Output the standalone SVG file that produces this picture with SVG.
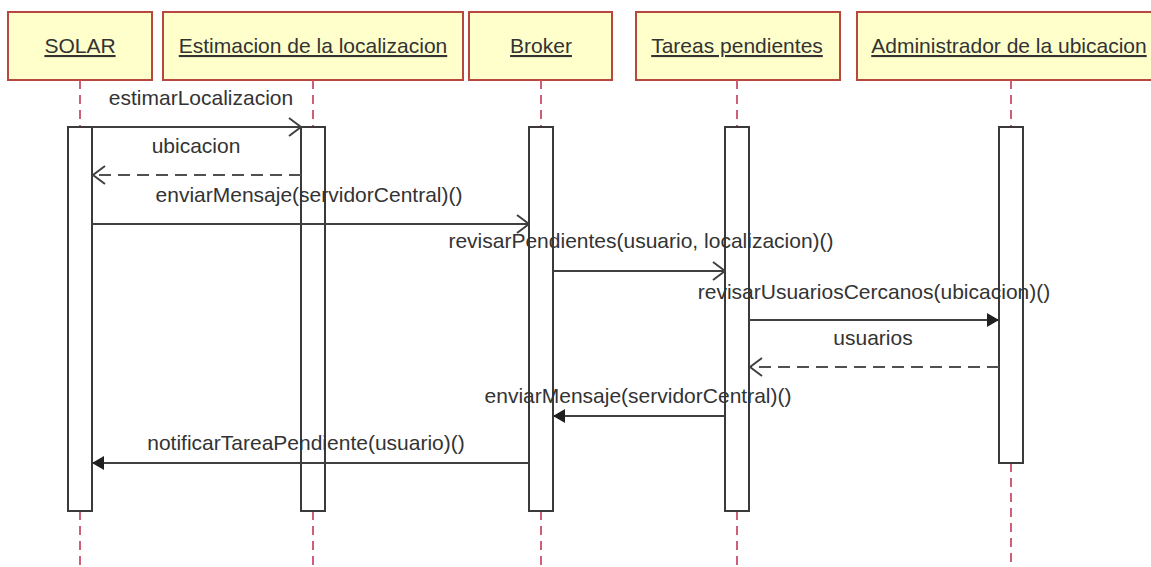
<svg xmlns="http://www.w3.org/2000/svg" width="1151" height="567" viewBox="0 0 1151 567">
  <style>
    .head { fill: #ffffcc; stroke: #b8483f; stroke-width: 2; }
    .htxt { font-family: "Liberation Sans", Arial, sans-serif; font-size: 21px; fill: #333; text-anchor: middle; text-decoration: underline; }
    .life { stroke: #c8506a; stroke-width: 1.8; stroke-dasharray: 9 6; fill: none; }
    .act { fill: #ffffff; stroke: #3a3a3a; stroke-width: 2; }
    .msg { stroke: #404040; stroke-width: 2; fill: none; }
    .ret { stroke: #505050; stroke-width: 2; fill: none; stroke-dasharray: 12 7; }
    .lbl { font-family: "Liberation Sans", Arial, sans-serif; font-size: 21px; fill: #333; text-anchor: middle; }
  </style>
  <defs>
    <marker id="open" viewBox="0 0 14 20" refX="13" refY="10" markerWidth="14" markerHeight="20" markerUnits="userSpaceOnUse" orient="auto">
      <path d="M1,1 L13,10 L1,19" fill="none" stroke="#404040" stroke-width="2"/>
    </marker>
    <marker id="filled" viewBox="0 0 12 16" refX="12" refY="8" markerWidth="12" markerHeight="16" markerUnits="userSpaceOnUse" orient="auto">
      <path d="M0,1 L12,8 L0,15 Z" fill="#202020"/>
    </marker>
  </defs>
  <rect width="1151" height="567" fill="#ffffff"/>

  <g id="solar">
    <rect class="head" x="8" y="12" width="144" height="68"/>
    <text class="htxt" x="80" y="53">SOLAR</text>
    <line class="life" x1="80" y1="80" x2="80" y2="127"/>
    <line class="life" x1="80" y1="511" x2="80" y2="567"/>
    <rect class="act" x="68" y="127" width="24" height="384"/>
  </g>

  <g id="estimacion">
    <rect class="head" x="163" y="12" width="300" height="68"/>
    <text class="htxt" x="313" y="53">Estimacion de la localizacion</text>
    <line class="life" x1="313" y1="80" x2="313" y2="127"/>
    <line class="life" x1="313" y1="511" x2="313" y2="567"/>
    <rect class="act" x="301" y="127" width="24" height="384"/>
  </g>

  <g id="broker">
    <rect class="head" x="469" y="12" width="143" height="68"/>
    <text class="htxt" x="541" y="53">Broker</text>
    <line class="life" x1="541" y1="80" x2="541" y2="127"/>
    <line class="life" x1="541" y1="511" x2="541" y2="567"/>
    <rect class="act" x="529" y="127" width="24" height="384"/>
  </g>

  <g id="tareas">
    <rect class="head" x="636" y="12" width="204" height="68"/>
    <text class="htxt" x="737" y="53">Tareas pendientes</text>
    <line class="life" x1="737" y1="80" x2="737" y2="127"/>
    <line class="life" x1="737" y1="511" x2="737" y2="567"/>
    <rect class="act" x="725" y="127" width="24" height="384"/>
  </g>

  <g id="administrador">
    <rect class="head" x="857" y="12" width="310" height="68"/>
    <text class="htxt" x="1009" y="53">Administrador de la ubicacion</text>
    <line class="life" x1="1011" y1="80" x2="1011" y2="127"/>
    <line class="life" x1="1011" y1="463" x2="1011" y2="567"/>
    <rect class="act" x="999" y="127" width="24" height="336"/>
  </g>

  <g id="connectors">
    <line class="msg" x1="92" y1="127" x2="301" y2="127" marker-end="url(#open)"/>
    <text class="lbl" x="201" y="105">estimarLocalizacion</text>

    <line class="ret" x1="301" y1="175" x2="93" y2="175" marker-end="url(#open)"/>
    <text class="lbl" x="196" y="153">ubicacion</text>

    <line class="msg" x1="92" y1="224" x2="529" y2="224" marker-end="url(#open)"/>
    <text class="lbl" x="309" y="202">enviarMensaje(servidorCentral)()</text>

    <line class="msg" x1="553" y1="271" x2="725" y2="271" marker-end="url(#open)"/>
    <text class="lbl" x="641" y="248">revisarPendientes(usuario, localizacion)()</text>

    <line class="msg" x1="749" y1="320" x2="999" y2="320" marker-end="url(#filled)"/>
    <text class="lbl" x="874" y="299">revisarUsuariosCercanos(ubicacion)()</text>

    <line class="ret" x1="999" y1="367" x2="750" y2="367" marker-end="url(#open)"/>
    <text class="lbl" x="873" y="345">usuarios</text>

    <line class="msg" x1="725" y1="416" x2="553" y2="416" marker-end="url(#filled)"/>
    <text class="lbl" x="638" y="403">enviarMensaje(servidorCentral)()</text>

    <line class="msg" x1="529" y1="463" x2="92" y2="463" marker-end="url(#filled)"/>
    <text class="lbl" x="306" y="450">notificarTareaPendiente(usuario)()</text>
  </g>
</svg>
